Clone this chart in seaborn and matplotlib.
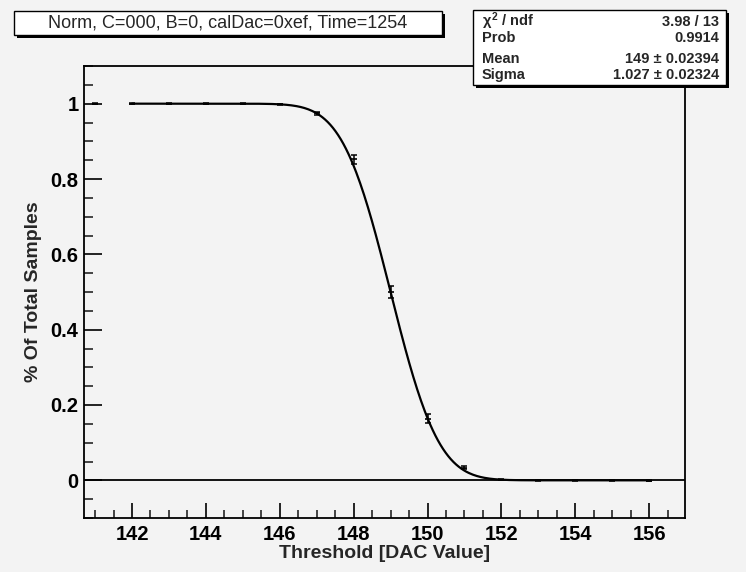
import math
import numpy as np
import pandas as pd
import matplotlib
matplotlib.use("Agg")
import matplotlib.pyplot as plt
import seaborn as sns
from matplotlib.patches import Rectangle
from matplotlib.ticker import MultipleLocator

# ---- data ----
thresholds = [141, 142, 143, 144, 145, 146, 147, 148, 149, 150, 151, 152, 153, 154, 155, 156]
fractions = [1.0, 1.0, 1.0, 1.0, 1.0, 0.998, 0.975, 0.852, 0.501, 0.164, 0.033, 0.002, 0.0, 0.0, 0.0, -0.001]
errors = [0.002, 0.001, 0.001, 0.001, 0.001, 0.002, 0.004, 0.011, 0.016, 0.013, 0.004, 0.001, 0.001, 0.001, 0.001, 0.002]

# fit parameters (from stats box)
fit_mean = 149.0
fit_sigma = 1.027
fit_range = (142.0, 156.0)

title_text = "Norm, C=000, B=0, calDac=0xef, Time=1254"
stats_labels = ["$\\chi^2$ / ndf", "Prob", "Mean", "Sigma"]
stats_values = ["3.98 / 13", "0.9914", "149 \u00b1 0.02394", "1.027 \u00b1 0.02324"]
xlabel = "Threshold [DAC Value]"
ylabel = "% Of Total Samples"

# ---- style ----
sns.set_theme(style="ticks")
plt.rcParams["font.family"] = ["Liberation Sans", "DejaVu Sans"]
plt.rcParams["mathtext.fontset"] = "custom"
plt.rcParams["mathtext.rm"] = "Liberation Sans:bold"
plt.rcParams["mathtext.it"] = "Liberation Sans:bold"
bg = "#f3f3f3"

W, H = 746, 572
fig = plt.figure(figsize=(W / 100, H / 100), dpi=100, facecolor=bg)


def fx(x):
    return x / W


def fy(y):
    return 1 - y / H


ax_l, ax_r, ax_t, ax_b = 84, 685, 66, 518
ax = fig.add_axes([fx(ax_l), fy(ax_b), fx(ax_r - ax_l), (ax_b - ax_t) / H])
ax.set_facecolor(bg)

df = pd.DataFrame({"x": thresholds, "y": fractions, "err": errors})

# fit curve
xf = np.linspace(fit_range[0], fit_range[1], 400)
yf = [0.5 * math.erfc((v - fit_mean) / (math.sqrt(2) * fit_sigma)) for v in xf]
fit_df = pd.DataFrame({"x": xf, "y": yf})
sns.lineplot(data=fit_df, x="x", y="y", ax=ax, color="black", lw=1.6, zorder=3)

# zero line
ax.axhline(0, color="black", lw=1.3, zorder=2)

# data points with error bars
ax.errorbar(df["x"], df["y"], yerr=df["err"], fmt="none", ecolor="black",
            elinewidth=1.1, capsize=2.5, capthick=1.1, zorder=4)
sns.scatterplot(data=df, x="x", y="y", ax=ax, marker="_", s=18, color="black",
                linewidth=1.2, zorder=5, legend=False)

ax.set_xlim(140.70, 156.97)
ax.set_ylim(-0.1, 1.1)

ax.xaxis.set_minor_locator(MultipleLocator(0.5))
ax.yaxis.set_minor_locator(MultipleLocator(0.05))
ax.set_xticks(np.arange(142, 157, 2))
ax.set_xticklabels([str(v) for v in range(142, 157, 2)])
ax.set_yticks([0, 0.2, 0.4, 0.6, 0.8, 1.0])
ax.set_yticklabels(["0", "0.2", "0.4", "0.6", "0.8", "1"])

ax.tick_params(axis="x", which="major", direction="in", length=11, width=1.2,
               labelsize=14.5, pad=5, colors="black")
ax.tick_params(axis="x", which="minor", direction="in", length=5.5, width=1.2)
ax.tick_params(axis="y", which="major", direction="in", length=13, width=1.2,
               labelsize=14.5, pad=4, colors="black")
ax.tick_params(axis="y", which="minor", direction="in", length=6.5, width=1.2)
for lab in ax.get_xticklabels() + ax.get_yticklabels():
    lab.set_fontweight("bold")

for s in ax.spines.values():
    s.set_visible(True)
    s.set_color("black")
    s.set_linewidth(1.3)

ax.set_xlabel(xlabel, fontsize=14, fontweight="bold", labelpad=1)
ax.set_ylabel(ylabel, fontsize=14, fontweight="bold", labelpad=6)
ax.grid(False)


# ---- boxes ----
def box(x0, y0, x1, y1, sh=3):
    fig.patches.append(Rectangle((fx(x0 + sh), fy(y1 + sh)), fx(x1 - x0), (y1 - y0) / H,
                                 transform=fig.transFigure, facecolor="black",
                                 edgecolor="none", zorder=10))
    fig.patches.append(Rectangle((fx(x0), fy(y1)), fx(x1 - x0), (y1 - y0) / H,
                                 transform=fig.transFigure, facecolor="white",
                                 edgecolor="black", lw=1.0, zorder=11))


box(14, 11, 442, 35)
fig.text(fx(228), fy(23.5), title_text, ha="center", va="center", fontsize=13,
         zorder=12)

box(473, 10, 726, 85, sh=3)
baselines = [26, 42, 63, 79]
for lab, val, yy in zip(stats_labels, stats_values, baselines):
    fig.text(fx(482), fy(yy), lab, ha="left", va="baseline", fontsize=10.5,
             fontweight="bold", zorder=12)
    fig.text(fx(719), fy(yy), val, ha="right", va="baseline", fontsize=10.5,
             fontweight="bold", zorder=12)

fig.savefig("out.png", dpi=100, facecolor=bg)
